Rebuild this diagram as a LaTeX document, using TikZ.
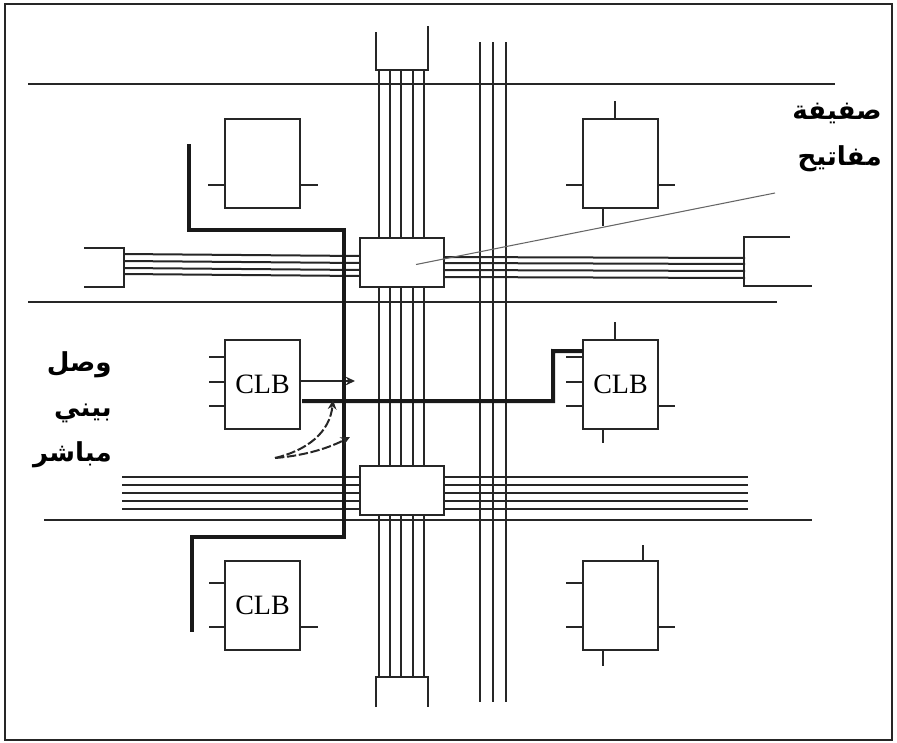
\documentclass[tikz,border=0pt]{standalone}
\usepackage{fontspec}
\setmainfont{Liberation Serif}
\newfontfamily\arabicfont[Script=Arabic]{DejaVu Sans}
\TeXXeTstate=1
\usepackage{tikz}
\usetikzlibrary{arrows.meta}

\begin{document}
\begin{tikzpicture}[x=0.75pt,y=-0.75pt,>={Stealth[length=7pt,width=6.5pt]},
    wire/.style={draw=black!85, line width=1.5pt},
    route/.style={draw=black!90, line width=3pt, line join=miter},
    clb/.style={draw=black!85, fill=white, line width=1.5pt, outer sep=0pt, inner sep=0pt, minimum width=56.25pt, minimum height=66.75pt, font=\fontsize{21}{24}\selectfont},
    switch/.style={draw=black!85, fill=white, line width=1.8pt, outer sep=0pt, minimum width=63pt, minimum height=37pt},
    tapline/.style={draw=black!85, line width=1.5pt, dash pattern=on 7pt off 2pt},
    caption/.style={align=right, inner sep=0pt, font=\arabicfont\bfseries\fontsize{19.6}{34}\selectfont}]
    \useasboundingbox (0,0) rectangle (897,743);
    \draw[line width=1.8pt, draw=black!85] (5,4) rectangle (892,740);

    % long rails
    \draw[wire] (28,84) -- (835,84);
    \draw[wire] (28,302) -- (777,302);
    \draw[wire] (44,520) -- (812,520);

    % vertical channel
    \foreach \x [count=\i] in {379,390,401,413,424} {
      \draw[wire] (\x,70) coordinate (vt\i) -- (\x,678) coordinate (vb\i);
    }
    \draw[wire] (376,32) -- (376,70) -- (428,70) -- (428,26);
    \draw[wire] (376,707) -- (376,677) -- (428,677) -- (428,707);
    \foreach \x in {480,493,506} {
      \draw[wire] (\x,42) -- (\x,702);
    }

    % horizontal channels
    \foreach \a/\b/\c/\d [count=\i] in {254/256/257/258,261/263/263/264,268/270/270/271,274/276/277/278} {
      \draw[wire] (124,\a) coordinate (hl\i) -- (360,\b) coordinate (hm\i);
      \draw[wire] (444,\c) coordinate (hn\i) -- (745,\d) coordinate (hr\i);
    }
    \draw[wire] (84,248) -- (124,248) -- (124,287) -- (84,287);
    \draw[wire] (790,237) -- (744,237) -- (744,286) -- (812,286);
    \foreach \y [count=\i] in {477,485,493,501,509} {
      \draw[wire] (122,\y) coordinate (bl\i) -- (748,\y) coordinate (br\i);
    }

    % switch matrices
    \node[switch] (sa) at (402,262.5) {};
    \node[switch] (sb) at (402,490.5) {};

    % logic blocks
    \node[clb] (tl) at (262.5,163.5) {};
    \node[clb] (tr) at (620.5,163.5) {};
    \node[clb] (ml) at (262.5,384.5) {CLB};
    \node[clb] (mr) at (620.5,384.5) {CLB};
    \node[clb] (bl) at (262.5,605.5) {CLB};
    \node[clb] (br) at (620.5,605.5) {};

    % pins
    \begin{scope}[shift=(tl.north west)]
      \draw[wire] (0,66) -- (-17,66);
      \draw[wire] (75,66) -- (93,66);
    \end{scope}
    \begin{scope}[shift=(tr.north west)]
      \draw[wire] (32,0) -- (32,-18);
      \draw[wire] (0,66) -- (-17,66);
      \draw[wire] (75,66) -- (92,66);
      \draw[wire] (20,89) -- (20,107);
    \end{scope}
    \begin{scope}[shift=(ml.north west)]
      \draw[wire] (0,17) -- (-16,17);
      \draw[wire] (0,42) -- (-16,42);
      \draw[wire] (0,66) -- (-16,66);
      \draw[wire,->] (75,41) -- (130,41);
    \end{scope}
    \begin{scope}[shift=(mr.north west)]
      \draw[wire] (32,0) -- (32,-18);
      \draw[wire] (0,17) -- (-17,17);
      \draw[wire] (0,42) -- (-17,42);
      \draw[wire] (0,66) -- (-17,66);
      \draw[wire] (75,66) -- (92,66);
      \draw[wire] (20,89) -- (20,103);
    \end{scope}
    \begin{scope}[shift=(bl.north west)]
      \draw[wire] (0,22) -- (-16,22);
      \draw[wire] (0,66) -- (-16,66);
      \draw[wire] (75,66) -- (93,66);
    \end{scope}
    \begin{scope}[shift=(br.north west)]
      \draw[wire] (60,0) -- (60,-16);
      \draw[wire] (0,22) -- (-17,22);
      \draw[wire] (0,66) -- (-17,66);
      \draw[wire] (75,66) -- (92,66);
      \draw[wire] (20,89) -- (20,105);
    \end{scope}

    % thick routes
    \draw[route] (189,144) -- (189,230) -- (344,230) -- (344,537) -- (192,537) -- (192,632);
    \draw[route] ([shift={(2,16.5)}]ml.east) -| (553,351) -- ([yshift=25pt]mr.west);

    % labels and leaders
    \coordinate (fork) at (275,458);
    \coordinate (tapa) at (333,400);
    \coordinate (tapb) at (350,437);
    \draw[tapline,->] (fork) .. controls (308,450) and (330,432) .. (tapa);
    \draw[tapline,->] (fork) .. controls (300,456) and (325,450) .. (tapb);
    \coordinate (lead) at (775,193);
    \draw[draw=black!60, line width=0.8pt] (sa.center) ++(14,2) -- (lead);

    \node[caption, anchor=north east] (direct) at (112,351) {\beginR وصل\endR\\ \beginR بيني\endR\\ \beginR مباشر\endR};
    \node[caption, anchor=north east] (matrix) at (882,103) {\beginR صفيفة\endR\\ \beginR مفاتيح\endR};
\end{tikzpicture}
\end{document}
